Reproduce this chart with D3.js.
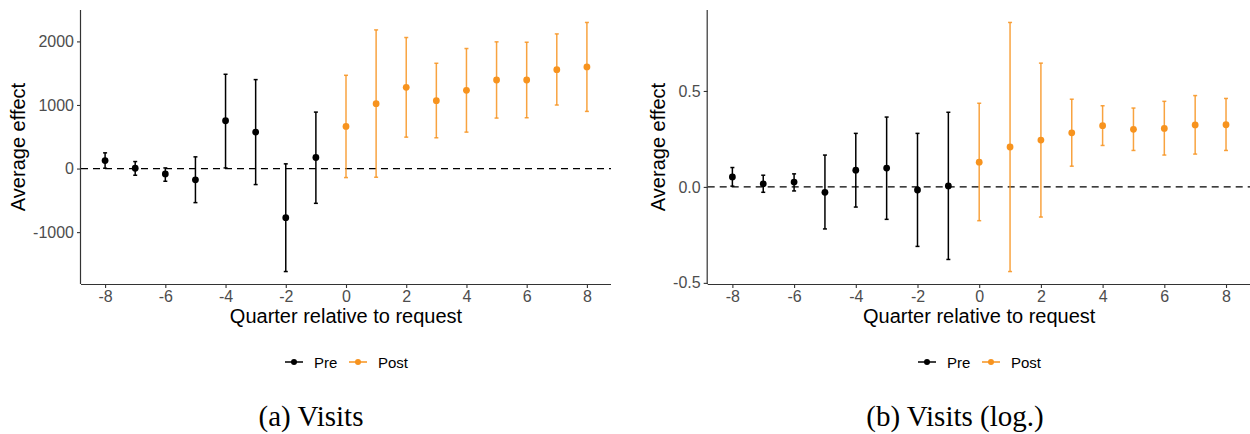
<!DOCTYPE html>
<html>
<head>
<meta charset="utf-8">
<script src="https://cdn.jsdelivr.net/npm/d3@7"></script>
<style>
  body { margin: 0; background: #fff; }
  svg text { font-family: "Liberation Sans", Arial, sans-serif; }
</style>
</head>
<body>
<div id="chart"></div>
<script>
const quarters = [-8, -7, -6, -5, -4, -3, -2, -1, 0, 1, 2, 3, 4, 5, 6, 7, 8];

// (a) Visits
const visitsEst = [126, 5, -84, -178, 752, 573, -773, 174, 662, 1020, 1278, 1068, 1230, 1393, 1393, 1556, 1598];
const visitsLo = [5, -105, -200, -536, 10, -252, -1620, -547, -142, -137, 494, 484, 573, 794, 799, 999, 899];
const visitsHi = [247, 110, 10, 184, 1483, 1399, 74, 888, 1467, 2181, 2061, 1656, 1888, 1993, 1987, 2118, 2298];

// (b) Visits (log.)
const logEst = [0.052, 0.016, 0.025, -0.028, 0.087, 0.098, -0.016, 0.005, 0.129, 0.208, 0.244, 0.282, 0.319, 0.300, 0.305, 0.323, 0.324];
const logLo = [0.004, -0.028, -0.021, -0.219, -0.105, -0.169, -0.310, -0.378, -0.176, -0.441, -0.157, 0.108, 0.216, 0.190, 0.166, 0.171, 0.190];
const logHi = [0.101, 0.061, 0.068, 0.166, 0.279, 0.364, 0.279, 0.389, 0.436, 0.857, 0.645, 0.457, 0.423, 0.411, 0.446, 0.476, 0.461];

const xTicks = [-8, -6, -4, -2, 0, 2, 4, 6, 8];
const visitsTicks = [-1000, 0, 1000, 2000];
const logTicks = [-0.5, 0, 0.5];
const groups = ["Pre", "Post"];
const groupColor = { Pre: "#000000", Post: "#F7931E" };

const width = 1250;
const height = 434;

const svg = d3.select("#chart")
    .append("svg")
    .attr("width", width)
    .attr("height", height);

function panel(opts) {
    const rows = quarters.map((q, i) => ({
        q: q,
        est: opts.est[i],
        lo: opts.lo[i],
        hi: opts.hi[i],
        group: q < 0 ? "Pre" : "Post"
    }));

    // ggplot-style 5% expansion
    const xr = d3.extent(quarters);
    const xPad = (xr[1] - xr[0]) * 0.05;
    const x = d3.scaleLinear()
        .domain([xr[0] - xPad, xr[1] + xPad])
        .range([opts.left, opts.right]);

    const yMin = d3.min(rows, d => d.lo);
    const yMax = d3.max(rows, d => d.hi);
    const yPad = (yMax - yMin) * 0.05;
    const y = d3.scaleLinear()
        .domain([yMin - yPad, yMax + yPad])
        .range([opts.bottom, opts.top]);

    const g = svg.append("g");

    // zero line
    g.append("line")
        .attr("x1", opts.left)
        .attr("x2", opts.right)
        .attr("y1", y(0))
        .attr("y2", y(0))
        .attr("stroke", "#000")
        .attr("stroke-width", 1.2)
        .attr("stroke-dasharray", "7,5");

    // error bars
    const bars = g.selectAll(".bar")
        .data(rows)
        .enter().append("g")
        .attr("class", "bar")
        .attr("stroke", d => groupColor[d.group])
        .attr("stroke-opacity", d => d.group === "Post" ? 0.85 : 1)
        .attr("stroke-width", 1.5);

    bars.append("line")
        .attr("x1", d => x(d.q))
        .attr("x2", d => x(d.q))
        .attr("y1", d => y(d.lo))
        .attr("y2", d => y(d.hi));
    bars.append("line")
        .attr("x1", d => x(d.q) - 2)
        .attr("x2", d => x(d.q) + 2)
        .attr("y1", d => y(d.lo))
        .attr("y2", d => y(d.lo));
    bars.append("line")
        .attr("x1", d => x(d.q) - 2)
        .attr("x2", d => x(d.q) + 2)
        .attr("y1", d => y(d.hi))
        .attr("y2", d => y(d.hi));

    g.selectAll(".pt")
        .data(rows)
        .enter().append("circle")
        .attr("class", "pt")
        .attr("cx", d => x(d.q))
        .attr("cy", d => y(d.est))
        .attr("r", 3.4)
        .attr("fill", d => groupColor[d.group]);

    // axes
    const xAxis = g.append("g")
        .attr("transform", `translate(0,${opts.bottom})`)
        .call(d3.axisBottom(x).tickValues(xTicks).tickFormat(d => String(d)).tickSize(4).tickPadding(3));
    const yAxis = g.append("g")
        .attr("transform", `translate(${opts.left},0)`)
        .call(d3.axisLeft(y).tickValues(opts.ticks).tickFormat(opts.fmt).tickSize(4).tickPadding(3));

    [xAxis, yAxis].forEach(a => {
        a.select(".domain").attr("stroke", "#333").attr("stroke-width", 1.2);
        a.selectAll(".tick line").attr("stroke", "#333").attr("stroke-width", 1.1);
        a.selectAll(".tick text")
            .attr("fill", "#4D4D4D")
            .style("font-size", "16px");
    });
    xAxis.select(".domain").attr("d", `M${opts.left},0.5H${opts.right}`);
    yAxis.select(".domain").attr("d", `M-0.5,${opts.top}V${opts.bottom}`);

    // axis titles
    g.append("text")
        .attr("x", (opts.left + opts.right) / 2)
        .attr("y", 323)
        .attr("text-anchor", "middle")
        .style("font-size", "20px")
        .text("Quarter relative to request");

    g.append("text")
        .attr("transform", `translate(${opts.ytitleX},${(opts.top + opts.bottom) / 2}) rotate(-90)`)
        .attr("text-anchor", "middle")
        .style("font-size", "20px")
        .text("Average effect");

    // legend
    const leg = g.append("g").attr("transform", `translate(${opts.legendX},362)`);
    let off = 0;
    groups.forEach(k => {
        const item = leg.append("g").attr("transform", `translate(${off},0)`);
        item.append("line")
            .attr("x1", 0).attr("x2", 18)
            .attr("y1", 0).attr("y2", 0)
            .attr("stroke", groupColor[k])
            .attr("stroke-width", 1.5);
        item.append("circle")
            .attr("cx", 9).attr("cy", 0).attr("r", 3)
            .attr("fill", groupColor[k]);
        item.append("text")
            .attr("x", 29)
            .attr("y", 5.5)
            .style("font-size", "15px")
            .text(k);
        off += k === "Pre" ? 64 : 0;
    });

    // caption
    svg.append("text")
        .attr("x", opts.captionX)
        .attr("y", 426)
        .attr("text-anchor", "middle")
        .style("font-family", "'Liberation Serif', 'Times New Roman', serif")
        .style("font-size", "29px")
        .text(opts.caption);
}

panel({
    est: visitsEst, lo: visitsLo, hi: visitsHi,
    left: 81, right: 611, top: 10, bottom: 284,
    ticks: visitsTicks, fmt: d => String(d),
    ytitleX: 25, legendX: 285, captionX: 311,
    caption: "(a) Visits"
});

panel({
    est: logEst, lo: logLo, hi: logHi,
    left: 707.7, right: 1250.7, top: 10, bottom: 284,
    ticks: logTicks, fmt: d => d.toFixed(1),
    ytitleX: 665, legendX: 918, captionX: 955,
    caption: "(b) Visits (log.)"
});
</script>
</body>
</html>
